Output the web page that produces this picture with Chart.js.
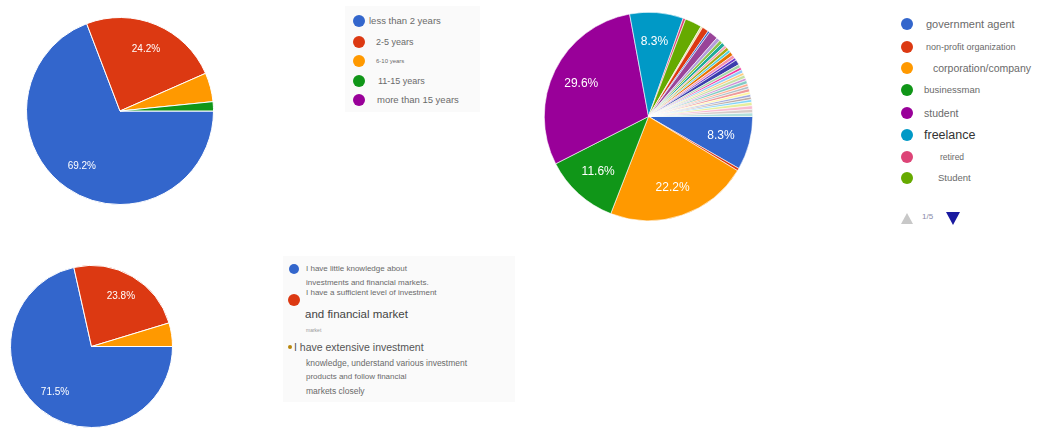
<!DOCTYPE html>
<html>
<head>
<meta charset="utf-8">
<script src="https://cdn.jsdelivr.net/npm/chart.js@4.4.1/dist/chart.umd.min.js"></script>
<style>
  body { margin: 0; background: #fff; width: 1046px; height: 428px; position: relative; overflow: hidden;
         font-family: "Liberation Sans", Arial, sans-serif; }
  canvas { position: absolute; }
  .box { position: absolute; background: #fafafa; }
  .dot { position: absolute; border-radius: 50%; }
  .txt { position: absolute; color: #6a6a6a; white-space: nowrap; line-height: 1; transform: translateY(-50%); }
</style>
</head>
<body>
<div class="box" style="left:345px;top:6px;width:135px;height:106px"></div>
<div class="box" style="left:283px;top:256px;width:232px;height:146px"></div>

<canvas id="pie1" width="188" height="188" style="left:26px;top:17px"></canvas>
<canvas id="pie2" width="209" height="209" style="left:544px;top:12px"></canvas>
<canvas id="pie3" width="163" height="163" style="left:10px;top:265px"></canvas>

<div id="legend1"></div>
<div id="legend2"></div>
<div id="legend3"></div>

<script>
// chart 1 - years
const yearLabels = ['less than 2 years', '2-5 years', '6-10 years', '11-15 years', 'more than 15 years'];
const yearValues = [69.2, 24.2, 5.0, 1.6, 0];
const yearColors = ['#3366cc', '#dc3912', '#ff9900', '#109618', '#990099'];

// chart 2 - occupation (only first page of legend is visible)
const jobLabels = ['government agent', 'non-profit organization', 'corporation/company', 'businessman',
  'student', 'freelance', 'retired', 'Student'];
const jobValues = [8.3, 0.4, 22.2, 11.6, 29.6, 8.3, 0.4, 2.6];
const otherJobValues = [0.3, 1.0, 0.3, 1.4, 0.6, 0.5, 0.6, 0.4, 0.5, 0.4, 0.6, 0.5, 0.4, 0.8, 0.5, 0.4,
  0.5, 0.4, 0.5, 0.4, 0.5, 0.4, 0.4, 0.5, 0.4, 0.4, 0.4, 0.4, 0.55, 0.55, 0.55, 0.55];
const jobColors = ['#3366cc', '#dc3912', '#ff9900', '#109618', '#990099', '#0099c6', '#dd4477', '#66aa00'];
const otherJobColors = ['#e8e0a0', '#dc3912', '#3366cc', '#994499', '#b39ddb', '#8bc34a', '#22aa99', '#f4a3b5',
  '#aaaa11', '#4dd0e1', '#e67300', '#f48fb1', '#6633cc', '#3b3eac', '#a5d6a7', '#f4359e', '#90caf9', '#ffcc80',
  '#c5e1a5', '#ce93d8', '#80cbc4', '#ffab91', '#b0bec5', '#ef9a9a', '#fff59d', '#9fa8da', '#bcaaa4', '#81d4fa',
  '#e6ee9c', '#f8bbd0', '#d7ccc8', '#b2dfdb'];

// chart 3 - knowledge
const knowLabels = ['I have little knowledge about investments and financial markets.',
  'I have a sufficient level of investment and financial market',
  'I have extensive investment knowledge, understand various investment products and follow financial markets closely'];
const knowValues = [71.5, 23.8, 4.7];
const knowColors = ['#3366cc', '#dc3912', '#ff9900'];

// percent text inside the big slices
const pctLabels = {
  id: 'pctLabels',
  afterDatasetsDraw(chart, args, opts) {
    const ctx = chart.ctx;
    const data = chart.data.datasets[0].data;
    ctx.save();
    ctx.fillStyle = '#fff';
    ctx.font = opts.size + 'px "Liberation Sans", Arial, sans-serif';
    ctx.textAlign = 'center';
    ctx.textBaseline = 'middle';
    chart.getDatasetMeta(0).data.forEach(function(arc, i) {
      if (data[i] < opts.min) return;
      const p = arc.getProps(['startAngle', 'endAngle', 'outerRadius', 'x', 'y'], true);
      const mid = (p.startAngle + p.endAngle) / 2;
      const r = p.outerRadius * 0.72;
      ctx.fillText(data[i].toFixed(1) + '%', p.x + Math.cos(mid) * r, p.y + Math.sin(mid) * r);
    });
    ctx.restore();
  }
};

function makePie(id, labels, values, colors, size, border) {
  new Chart(document.getElementById(id), {
    type: 'pie',
    data: {
      labels: labels,
      datasets: [{ data: values, backgroundColor: colors, borderColor: '#fff', borderWidth: border }]
    },
    options: {
      responsive: false,
      animation: false,
      devicePixelRatio: 1,
      rotation: 90,
      layout: { padding: 0 },
      plugins: {
        legend: { display: false },
        tooltip: { enabled: false },
        pctLabels: { min: 8, size: size }
      }
    },
    plugins: [pctLabels]
  });
}

makePie('pie1', yearLabels, yearValues, yearColors, 10, 1);
makePie('pie2', jobLabels.concat(otherJobValues.map(function(v, i) { return 'other ' + (i + 1); })),
  jobValues.concat(otherJobValues), jobColors.concat(otherJobColors), 12, 0.6);
makePie('pie3', knowLabels, knowValues, knowColors, 10, 1);

// html legends
function dot(parent, x, y, r, color) {
  const d = document.createElement('div');
  d.className = 'dot';
  d.style.cssText = 'left:' + (x - r) + 'px;top:' + (y - r) + 'px;width:' + (2 * r) + 'px;height:' + (2 * r) + 'px;background:' + color;
  parent.appendChild(d);
}
function text(parent, x, y, s, size, color) {
  const t = document.createElement('div');
  t.className = 'txt';
  t.textContent = s;
  t.style.left = x + 'px';
  t.style.top = y + 'px';
  t.style.fontSize = size + 'px';
  if (color) t.style.color = color;
  parent.appendChild(t);
}

const lg1 = document.getElementById('legend1');
const lg1Y = [21, 42, 61, 81, 100];
const lg1X = [369, 376, 376, 378, 377];
const lg1Size = [9.5, 9, 6, 9, 9.5];
yearLabels.forEach(function(s, i) {
  dot(lg1, 359, lg1Y[i], 6, yearColors[i]);
  text(lg1, lg1X[i], lg1Y[i], s, lg1Size[i]);
});

const lg2 = document.getElementById('legend2');
const lg2Y = [24, 47, 68, 90, 113, 135, 157, 178];
const lg2X = [926, 926, 933, 924, 924, 924, 940, 938];
const lg2Size = [11, 9, 10.5, 9.5, 10.5, 12.5, 8.5, 9.5];
jobLabels.forEach(function(s, i) {
  dot(lg2, 907, lg2Y[i], 6, jobColors[i]);
  text(lg2, lg2X[i], lg2Y[i], s, lg2Size[i], i == 5 ? '#333' : '#6a6a6a');
});
// pager
const up = document.createElement('div');
up.style.cssText = 'position:absolute;left:901px;top:213px;width:0;height:0;border-left:6px solid transparent;border-right:6px solid transparent;border-bottom:11px solid #c8c8c8';
lg2.appendChild(up);
text(lg2, 922, 217, '1/5', 8, '#8a8aa8');
const down = document.createElement('div');
down.style.cssText = 'position:absolute;left:946px;top:212px;width:0;height:0;border-left:7px solid transparent;border-right:7px solid transparent;border-top:13px solid #1a1aa0';
lg2.appendChild(down);

const lg3 = document.getElementById('legend3');
dot(lg3, 294, 269, 5, knowColors[0]);
dot(lg3, 294, 300, 6, knowColors[1]);
dot(lg3, 290, 347, 2, '#b8860b');
text(lg3, 306, 269, 'I have little knowledge about', 8);
text(lg3, 306, 283, 'investments and financial markets.', 8);
text(lg3, 306, 293, 'I have a sufficient level of investment', 8);
text(lg3, 305, 315, 'and financial market', 11.5, '#444');
text(lg3, 306, 330, 'market', 5, '#999');
text(lg3, 294, 347, 'I have extensive investment', 10.5, '#555');
text(lg3, 306, 363, 'knowledge, understand various investment', 8.5);
text(lg3, 306, 377, 'products and follow financial', 8);
text(lg3, 306, 391, 'markets closely', 8.5);
</script>
</body>
</html>
